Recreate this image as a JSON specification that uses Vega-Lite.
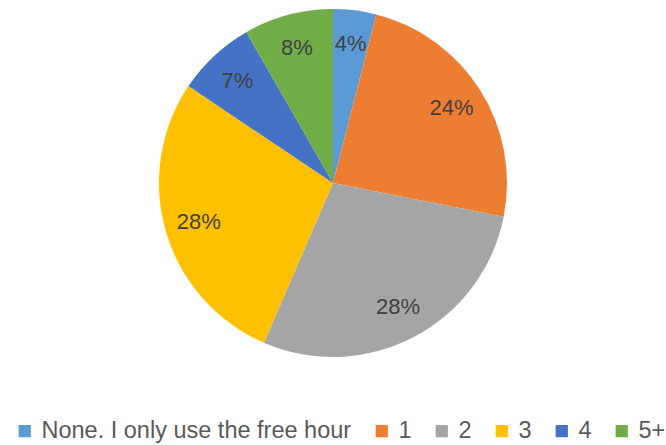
{
  "$schema": "https://vega.github.io/schema/vega-lite/v6.json",
  "width": 666,
  "height": 366,
  "autosize": {"type": "none"},
  "padding": {"left": 0, "top": 0, "right": 0, "bottom": 79},
  "background": "white",
  "config": {"view": {"stroke": null}, "font": "Liberation Sans"},
  "data": {"values": [
    {"category": "None. I only use the free hour", "value": 0.040, "order": 1},
    {"category": "1", "value": 0.241, "order": 2},
    {"category": "2", "value": 0.284, "order": 3},
    {"category": "3", "value": 0.279, "order": 4},
    {"category": "4", "value": 0.073, "order": 5},
    {"category": "5+", "value": 0.083, "order": 6}
  ]},
  "encoding": {
    "theta": {"field": "value", "type": "quantitative", "stack": true},
    "order": {"field": "order", "type": "quantitative"}
  },
  "layer": [
    {
      "mark": {"type": "arc", "outerRadius": 174},
      "encoding": {
        "color": {
          "field": "category", "type": "nominal",
          "sort": ["None. I only use the free hour", "1", "2", "3", "4", "5+"],
          "scale": {"range": ["#5B9BD5", "#ED7D31", "#A5A5A5", "#FFC000", "#4472C4", "#70AD47"]},
          "legend": {
            "title": null,
            "orient": "none",
            "legendX": 13,
            "legendY": 419,
            "direction": "horizontal",
            "columns": 6,
            "symbolType": "square",
            "symbolSize": 150,
            "symbolStrokeWidth": 0,
            "labelFontSize": 23.5,
            "labelColor": "#595959",
            "labelOffset": 5,
            "columnPadding": 18,
            "labelLimit": 400
          }
        }
      }
    },
    {
      "mark": {"type": "text", "radius": 140, "fontSize": 22, "fill": "#404040"},
      "encoding": {
        "text": {"field": "value", "type": "quantitative", "format": ".0%"}
      }
    }
  ]
}
